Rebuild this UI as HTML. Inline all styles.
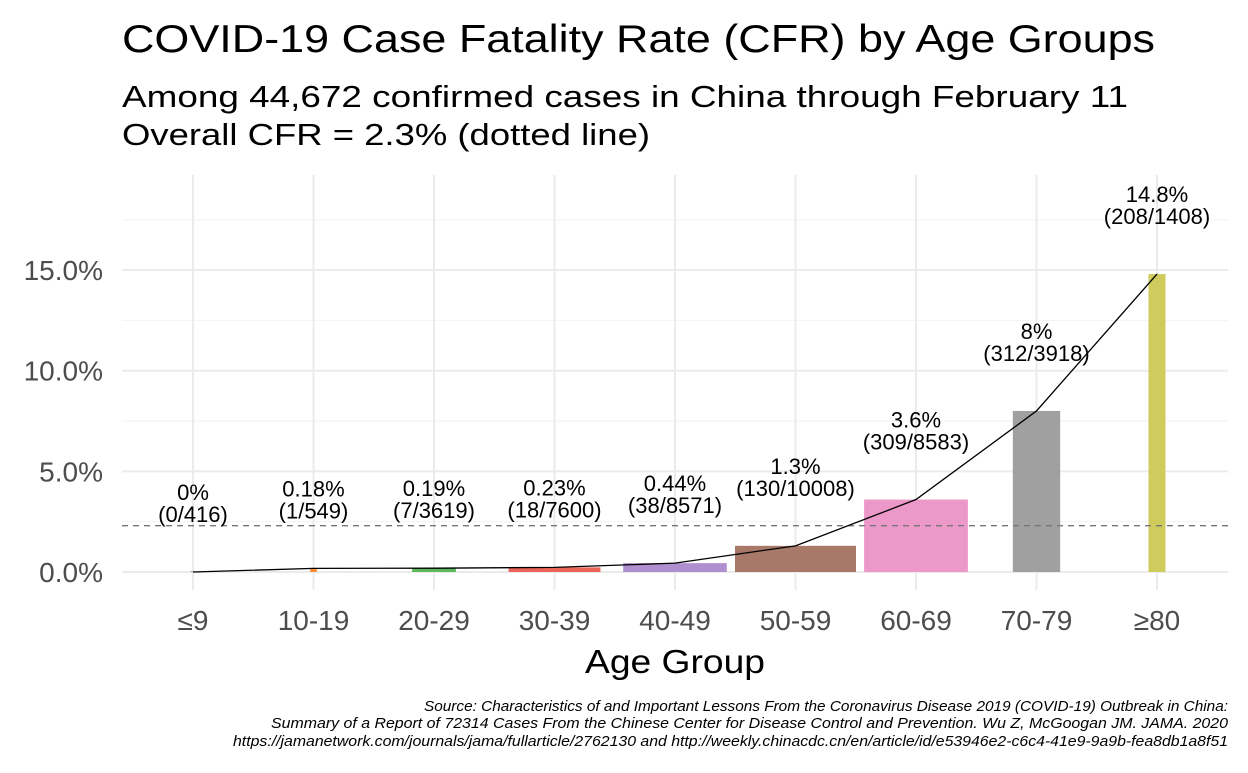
<!DOCTYPE html>
<html><head><meta charset="utf-8"><style>
body{margin:0;background:#fff;font-family:"Liberation Sans",sans-serif;}
svg text{font-family:"Liberation Sans",sans-serif;}
</style></head><body>
<svg width="1248" height="768" xmlns="http://www.w3.org/2000/svg">
<text x="122" y="52" font-size="39" fill="#000" textLength="1033" lengthAdjust="spacingAndGlyphs">COVID-19 Case Fatality Rate (CFR) by Age Groups</text>
<text x="122" y="107" font-size="31" fill="#000" textLength="1006" lengthAdjust="spacingAndGlyphs">Among 44,672 confirmed cases in China through February 11</text>
<text x="122" y="145" font-size="31" fill="#000" textLength="528" lengthAdjust="spacingAndGlyphs">Overall CFR = 2.3% (dotted line)</text>
<g id="grid"></g>
<g id="bars"></g>
<g id="labels"></g>
<g id="axes"></g>
<text x="675" y="673" font-size="33" text-anchor="middle" fill="#000" textLength="180" lengthAdjust="spacingAndGlyphs">Age Group</text>
<g font-size="14.5" font-style="italic" text-anchor="end" fill="#000">
<text x="1228" y="711" textLength="804" lengthAdjust="spacingAndGlyphs">Source: Characteristics of and Important Lessons From the Coronavirus Disease 2019 (COVID-19) Outbreak in China:</text>
<text x="1228" y="728" textLength="957" lengthAdjust="spacingAndGlyphs">Summary of a Report of 72314 Cases From the Chinese Center for Disease Control and Prevention. Wu Z, McGoogan JM. JAMA. 2020</text>
<text x="1228" y="746" textLength="995" lengthAdjust="spacingAndGlyphs">https://jamanetwork.com/journals/jama/fullarticle/2762130 and http://weekly.chinacdc.cn/en/article/id/e53946e2-c6c4-41e9-9a9b-fea8db1a8f51</text>
</g>
</svg>
<script>
const categories=["≤9","10-19","20-29","30-39","40-49","50-59","60-69","70-79","≥80"];
const cfr=[0,0.18,0.19,0.23,0.44,1.3,3.6,8,14.8];
const deaths=[0,1,7,18,38,130,309,312,208];
const cases=[416,549,3619,7600,8571,10008,8583,3918,1408];
const cfrText=["0%","0.18%","0.19%","0.23%","0.44%","1.3%","3.6%","8%","14.8%"];
const colors=["#1f77b4","#ff8c33","#5cb85c","#ec6459","#b08fd0","#a87868","#ec98c9","#a0a0a0","#cfcb5c"];
const yTicks=[0,5,10,15];
const yMinor=[2.5,7.5,12.5,17.5];
const overall=2.3;
const NS="http://www.w3.org/2000/svg";
const xs=i=>193+i*120.5;
const ys=v=>572-v*20.13;
const wd=c=>c/10008*121;
function mk(tag,attrs,parent){const e=document.createElementNS(NS,tag);for(const k in attrs)e.setAttribute(k,attrs[k]);parent.appendChild(e);return e;}
const grid=document.getElementById('grid'),bars=document.getElementById('bars'),labels=document.getElementById('labels'),axes=document.getElementById('axes');
yMinor.forEach(v=>{const l=mk('line',{x1:122,x2:1228,y1:ys(v),y2:ys(v),stroke:'#f2f2f2','stroke-width':1},grid);

});
yTicks.forEach(v=>{const l=mk('line',{x1:122,x2:1228,y1:ys(v),y2:ys(v),stroke:'#ebebeb','stroke-width':2},grid);


const t=mk('text',{x:103,y:ys(v)+10,'font-size':28,'text-anchor':'end',fill:'#4d4d4d'},axes);t.textContent=v.toFixed(1)+'%';

});
categories.forEach((c,i)=>{const l=mk('line',{x1:xs(i),x2:xs(i),y1:175,y2:590,stroke:'#ebebeb','stroke-width':2},grid);


const t=mk('text',{x:xs(i),y:630,'font-size':28,'text-anchor':'middle',fill:'#4d4d4d'},axes);t.textContent=c;

});
categories.forEach((c,i)=>{const w=wd(cases[i]);const h=Math.max(ys(0)-ys(cfr[i]),0.5);
const r=mk('rect',{x:xs(i)-w/2,y:ys(0)-h,width:w,height:h,fill:colors[i]},bars);


const t1=mk('text',{x:xs(i),y:ys(cfr[i])-72,'font-size':22,'text-anchor':'middle',fill:'#000'},labels);t1.textContent=cfrText[i];


const t2=mk('text',{x:xs(i),y:ys(cfr[i])-50,'font-size':22,'text-anchor':'middle',fill:'#000'},labels);t2.textContent='('+deaths[i]+'/'+cases[i]+')';

});
const d=mk('line',{x1:122,x2:1228,y1:ys(overall),y2:ys(overall),stroke:'#777','stroke-width':1.3,'stroke-dasharray':'6,5'},bars);


const p=mk('polyline',{points:cfr.map((v,i)=>xs(i)+','+ys(v)).join(' '),fill:'none',stroke:'#000','stroke-width':1.3},bars);


</script>
</body></html>
